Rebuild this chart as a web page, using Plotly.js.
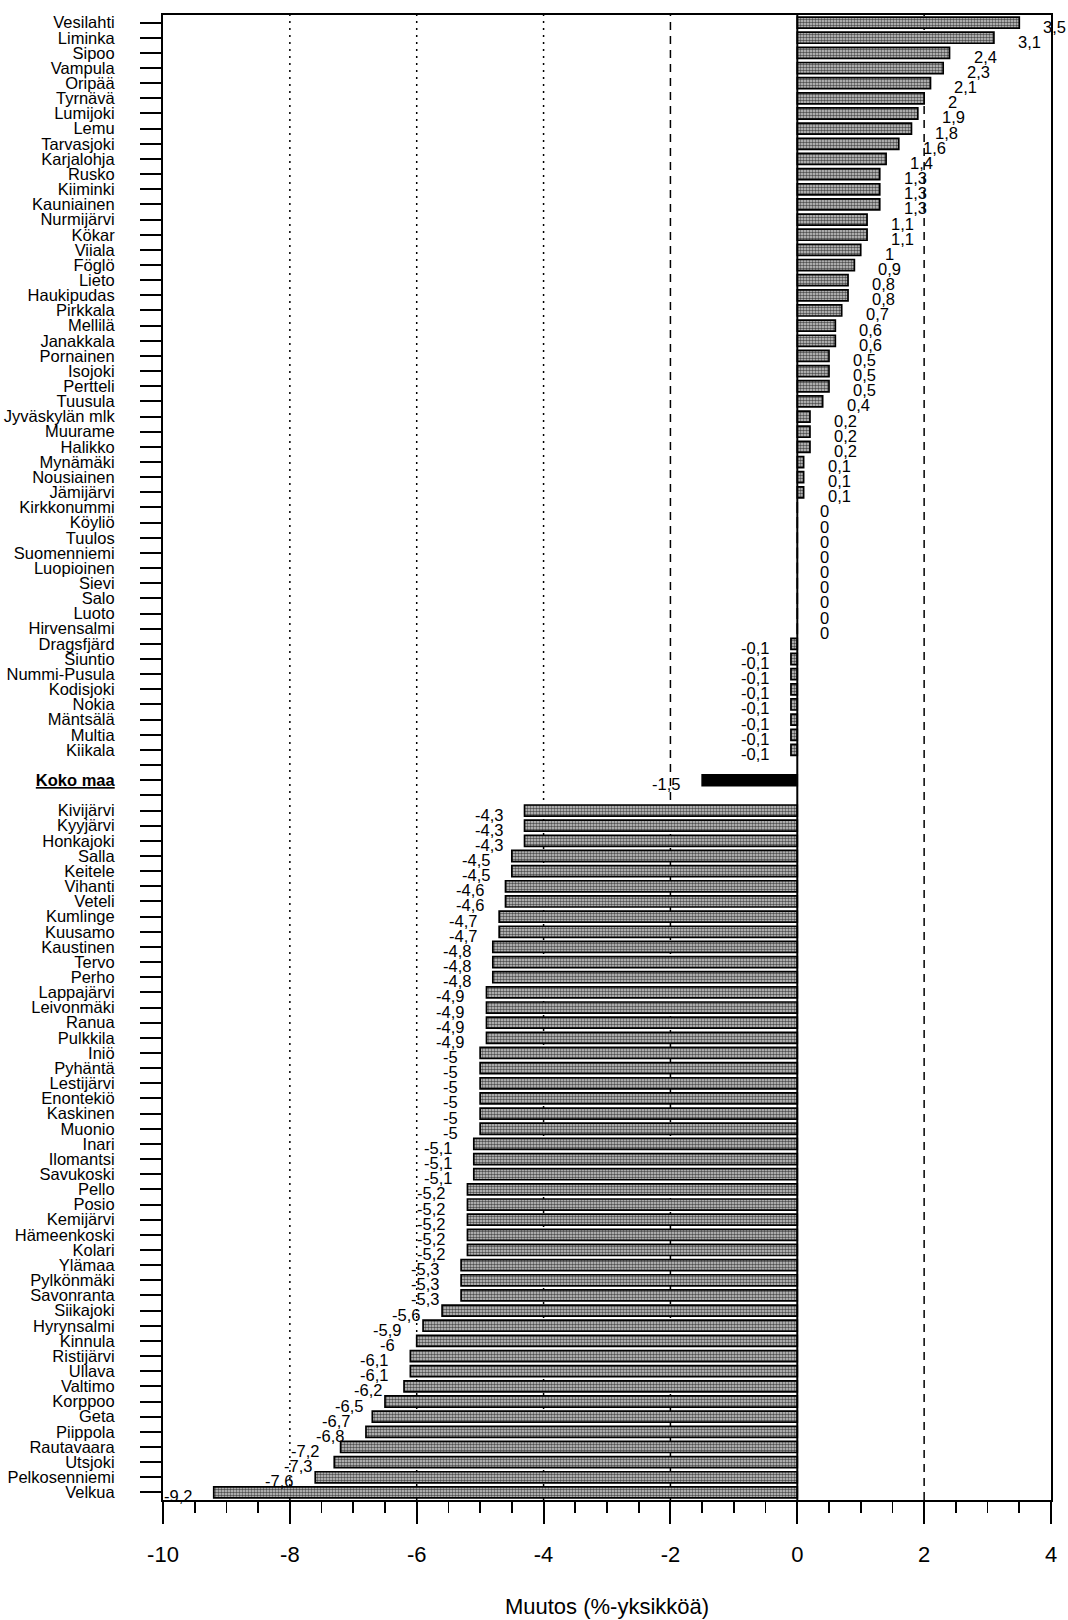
<!DOCTYPE html>
<html>
<head>
<meta charset="utf-8">
<script src="https://cdn.plot.ly/plotly-3.0.1.min.js"></script>
<style>
  html, body { margin: 0; padding: 0; background: #ffffff; }
  #chart { width: 1068px; height: 1620px; }
</style>
</head>
<body>
<div id="chart"></div>
<script>
// Rows from top to bottom; '' marks an empty row
const municipalities = [
  'Vesilahti','Liminka','Sipoo','Vampula','Oripää','Tyrnävä','Lumijoki','Lemu','Tarvasjoki','Karjalohja',
  'Rusko','Kiiminki','Kauniainen','Nurmijärvi','Kökar','Viiala','Föglö','Lieto','Haukipudas','Pirkkala',
  'Mellilä','Janakkala','Pornainen','Isojoki','Pertteli','Tuusula','Jyväskylän mlk','Muurame','Halikko','Mynämäki',
  'Nousiainen','Jämijärvi','Kirkkonummi','Köyliö','Tuulos','Suomenniemi','Luopioinen','Sievi','Salo','Luoto',
  'Hirvensalmi','Dragsfjärd','Siuntio','Nummi-Pusula','Kodisjoki','Nokia','Mäntsälä','Multia','Kiikala','',
  'Koko maa','',
  'Kivijärvi','Kyyjärvi','Honkajoki','Salla','Keitele','Vihanti','Veteli','Kumlinge','Kuusamo','Kaustinen',
  'Tervo','Perho','Lappajärvi','Leivonmäki','Ranua','Pulkkila','Iniö','Pyhäntä','Lestijärvi','Enontekiö',
  'Kaskinen','Muonio','Inari','Ilomantsi','Savukoski','Pello','Posio','Kemijärvi','Hämeenkoski','Kolari',
  'Ylämaa','Pylkönmäki','Savonranta','Siikajoki','Hyrynsalmi','Kinnula','Ristijärvi','Ullava','Valtimo','Korppoo',
  'Geta','Piippola','Rautavaara','Utsjoki','Pelkosenniemi','Velkua'
];
const changes = [
  3.5, 3.1, 2.4, 2.3, 2.1, 2, 1.9, 1.8, 1.6, 1.4,
  1.3, 1.3, 1.3, 1.1, 1.1, 1, 0.9, 0.8, 0.8, 0.7,
  0.6, 0.6, 0.5, 0.5, 0.5, 0.4, 0.2, 0.2, 0.2, 0.1,
  0.1, 0.1, 0, 0, 0, 0, 0, 0, 0, 0,
  0, -0.1, -0.1, -0.1, -0.1, -0.1, -0.1, -0.1, -0.1, null,
  -1.5, null,
  -4.3, -4.3, -4.3, -4.5, -4.5, -4.6, -4.6, -4.7, -4.7, -4.8,
  -4.8, -4.8, -4.9, -4.9, -4.9, -4.9, -5, -5, -5, -5,
  -5, -5, -5.1, -5.1, -5.1, -5.2, -5.2, -5.2, -5.2, -5.2,
  -5.3, -5.3, -5.3, -5.6, -5.9, -6, -6.1, -6.1, -6.2, -6.5,
  -6.7, -6.8, -7.2, -7.3, -7.6, -9.2
];
const totalName = 'Koko maa';
const xTicks = [-10, -8, -6, -4, -2, 0, 2, 4];
const dottedGrid = [-8, -6, -4];
const dashedGrid = [-2, 2];

const rows = municipalities.map((_, i) => i);
const muniY = [], muniX = [], totY = [], totX = [];
municipalities.forEach((m, i) => {
  if (changes[i] === null) return;
  if (m === totalName) { totY.push(i); totX.push(changes[i]); }
  else { muniY.push(i); muniX.push(changes[i]); }
});
const tickText = municipalities.map(m => m === totalName ? '<b><u>' + m + '</u></b>' : m);
const fmt = v => String(v).replace('.', ',');

const font = "Liberation Sans, Arial, Helvetica, sans-serif";

const traces = [
  {
    type: 'bar', orientation: 'h', x: muniX, y: muniY, width: 0.73,
    marker: {
      color: '#b4b4b4',
      pattern: { shape: '.', size: 3, solidity: 0.55, fgcolor: '#505050', bgcolor: '#d0d0d0', fillmode: 'replace' },
      line: { color: '#000', width: 1.7 }
    },
    hoverinfo: 'x+y'
  },
  {
    type: 'bar', orientation: 'h', x: totX, y: totY, width: 0.73,
    marker: { color: '#000', line: { color: '#000', width: 1.6 } },
    hoverinfo: 'x+y'
  }
];

const annotations = [];
municipalities.forEach((m, i) => {
  const v = changes[i];
  if (v === null) return;
  let xanchor, xshift;
  if (v > 0) { xanchor = 'left'; xshift = 22; }
  else if (v < 0) { xanchor = 'right'; xshift = -20; }
  else { xanchor = 'center'; xshift = 27; }
  annotations.push({
    x: v, y: i, xref: 'x', yref: 'y', text: fmt(v), showarrow: false,
    xanchor: xanchor, yanchor: 'middle', xshift: xshift, yshift: -4,
    font: { family: font, size: 16.5, color: '#000' }
  });
});

const shapes = [];
dottedGrid.forEach(g => shapes.push({
  type: 'line', xref: 'x', yref: 'paper', x0: g, x1: g, y0: 0, y1: 1,
  line: { color: '#000', width: 1.5, dash: '2px,5px' }, layer: 'below'
}));
dashedGrid.forEach(g => shapes.push({
  type: 'line', xref: 'x', yref: 'paper', x0: g, x1: g, y0: 0, y1: 1,
  line: { color: '#000', width: 1.5, dash: '8px,6px' }, layer: 'below'
}));
shapes.push({
  type: 'line', xref: 'x', yref: 'paper', x0: 0, x1: 0, y0: 0, y1: 1,
  line: { color: '#000', width: 2 }, layer: 'above'
});

const layout = {
  width: 1068, height: 1620,
  margin: { l: 163, r: 17, t: 15, b: 120 },
  paper_bgcolor: '#fff', plot_bgcolor: '#fff',
  font: { family: font, color: '#000' },
  barmode: 'overlay',
  showlegend: false,
  xaxis: {
    range: [-10, 4], tickvals: xTicks, ticktext: xTicks.map(String),
    ticks: 'outside', ticklen: 22, tickwidth: 2, tickcolor: '#000',
    minor: { dtick: 0.5, ticks: 'outside', ticklen: 11, tickwidth: 1.6, tickcolor: '#000', showgrid: false },
    showgrid: false, zeroline: false,
    showline: true, linecolor: '#000', linewidth: 2, mirror: true,
    tickfont: { family: font, size: 22, color: '#000' },
    ticklabelstandoff: 12,
    title: { text: 'Muutos (%-yksikköä)', font: { family: font, size: 22, color: '#000' }, standoff: 32 },
    fixedrange: true
  },
  yaxis: {
    range: [municipalities.length - 0.5, -0.5],
    tickvals: rows, ticktext: tickText,
    ticks: 'outside', ticklen: 21, tickwidth: 2, tickcolor: '#000',
    showgrid: false, zeroline: false,
    showline: true, linecolor: '#000', linewidth: 2, mirror: true,
    tickfont: { family: font, size: 16.5, color: '#000' },
    ticklabelstandoff: 22,
    fixedrange: true
  },
  annotations: annotations,
  shapes: shapes
};

Plotly.newPlot('chart', traces, layout, { displayModeBar: false, staticPlot: true });
</script>
</body>
</html>
